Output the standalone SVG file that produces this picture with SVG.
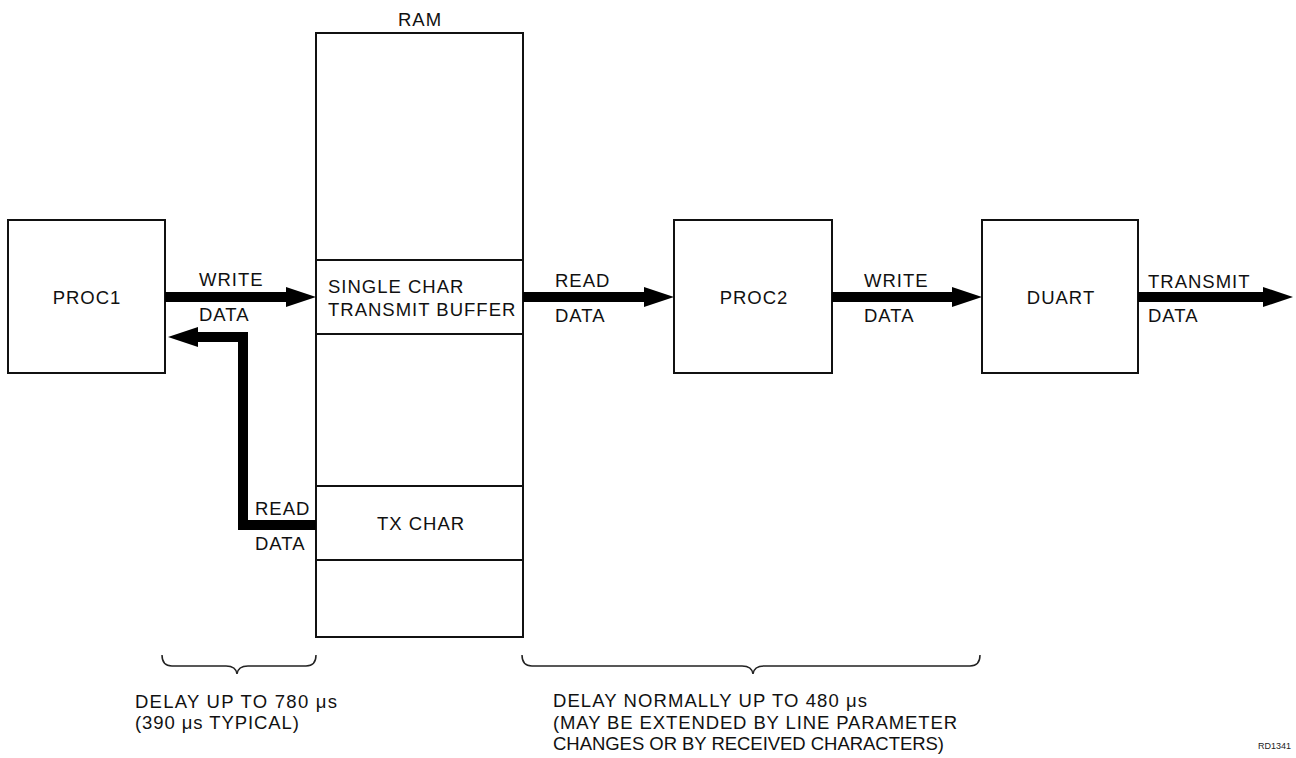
<svg xmlns="http://www.w3.org/2000/svg" width="1296" height="758" viewBox="0 0 1296 758">
<style>
.box{fill:#fff;stroke:#111;stroke-width:2}
.div{stroke:#111;stroke-width:2}
.bus{fill:none;stroke:#000;stroke-width:10;stroke-linejoin:miter}
.t{font-family:"Liberation Sans",Arial,sans-serif;font-size:18.5px;letter-spacing:1px;fill:#111}
.m{text-anchor:middle}
.brace{fill:none;stroke:#222;stroke-width:1.5}
</style>
<defs>
<marker id="ah" markerUnits="userSpaceOnUse" markerWidth="30" markerHeight="20" viewBox="0 -10 30 20" refX="0" refY="0" orient="auto" overflow="visible">
<path d="M0,-10 L30,0 L0,10 z" fill="#000"/>
</marker>
</defs>
<rect width="1296" height="758" fill="#fff"/>
<g id="proc1">
<rect class="box" x="8" y="220" width="157" height="153"/>
<text class="t m" x="87" y="304">PROC1</text>
</g>
<g id="ram">
<text class="t m" x="420" y="26">RAM</text>
<rect class="box" x="316" y="33" width="207" height="604"/>
<line class="div" x1="316" y1="260" x2="523" y2="260"/>
<line class="div" x1="316" y1="334" x2="523" y2="334"/>
<line class="div" x1="316" y1="486" x2="523" y2="486"/>
<line class="div" x1="316" y1="560" x2="523" y2="560"/>
<text class="t" x="328" y="293">SINGLE CHAR</text>
<text class="t" x="328" y="316">TRANSMIT BUFFER</text>
<text class="t m" x="421" y="530">TX CHAR</text>
</g>
<g id="proc2">
<rect class="box" x="674" y="220" width="158" height="153"/>
<text class="t m" x="754" y="304">PROC2</text>
</g>
<g id="duart">
<rect class="box" x="982" y="220" width="156" height="153"/>
<text class="t m" x="1061" y="304">DUART</text>
</g>
<g id="connectors">
<line class="bus" x1="165" y1="297" x2="286" y2="297" marker-end="url(#ah)"/>
<polyline class="bus" points="316,525 243,525 243,337 198,337" marker-end="url(#ah)"/>
<line class="bus" x1="523" y1="297" x2="644" y2="297" marker-end="url(#ah)"/>
<line class="bus" x1="832" y1="297" x2="952" y2="297" marker-end="url(#ah)"/>
<line class="bus" x1="1138" y1="297" x2="1263" y2="297" marker-end="url(#ah)"/>
</g>
<g id="labels">
<text class="t" x="199" y="286">WRITE</text>
<text class="t" x="199" y="321">DATA</text>
<text class="t" x="255" y="515">READ</text>
<text class="t" x="255" y="550">DATA</text>
<text class="t" x="555" y="287">READ</text>
<text class="t" x="555" y="322">DATA</text>
<text class="t" x="864" y="287">WRITE</text>
<text class="t" x="864" y="322">DATA</text>
<text class="t" x="1148" y="288">TRANSMIT</text>
<text class="t" x="1148" y="322">DATA</text>
</g>
<g id="delays">
<path class="brace" d="M162,655 Q162,666 172,666 L226,666 Q236,666 237,674 Q238,666 248,666 L306,666 Q316,666 316,655"/>
<text class="t" x="135" y="708" textLength="203" lengthAdjust="spacing">DELAY UP TO 780 μs</text>
<text class="t" x="135" y="729" textLength="165" lengthAdjust="spacing">(390 μs TYPICAL)</text>
<path class="brace" d="M522,655 Q522,666 532,666 L742,666 Q752,666 753,674 Q754,666 764,666 L970,666 Q980,666 980,655"/>
<text class="t" x="553" y="707" textLength="315" lengthAdjust="spacing">DELAY NORMALLY UP TO 480 μs</text>
<text class="t" x="553" y="729" textLength="405" lengthAdjust="spacing">(MAY BE EXTENDED BY LINE PARAMETER</text>
<text class="t" x="553" y="750" textLength="392" lengthAdjust="spacing">CHANGES OR BY RECEIVED CHARACTERS)</text>
</g>
<text x="1258" y="749" style="font-family:'Liberation Sans',Arial,sans-serif;font-size:9px;fill:#222">RD1341</text>
</svg>
